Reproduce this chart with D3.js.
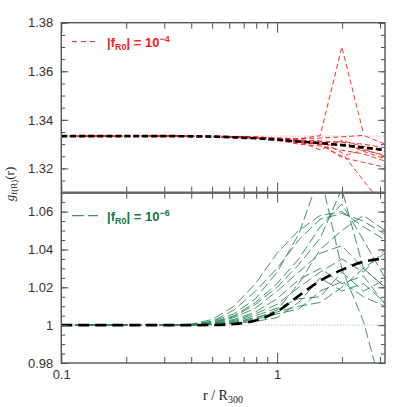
<!DOCTYPE html>
<html><head><meta charset="utf-8">
<script src="https://cdn.jsdelivr.net/npm/d3@7"></script>
<style>body{margin:0;background:#fff}</style>
</head><body>
<svg id="c" width="407" height="407"></svg>
<script>
// ---------- data ----------
const rGrid = [0.1,0.1259,0.1585,0.1995,0.2512,0.3162,0.3981,0.5012,0.631,0.7943,1.0,1.2589,1.5849,1.9953,2.5119,3.1623];

const meanTop = [1.3333,1.3333,1.3333,1.3333,1.3333,1.3333,1.3332,1.3331,1.3328,1.3324,1.3318,1.3311,1.3304,1.3296,1.3286,1.3276];
const meanBot = [1,1,1,1,1,1,1.0,1.0001,1.0006,1.0025,1.0072,1.0155,1.0235,1.0292,1.0335,1.0352];

const redCurves = [
  [1.3333,1.3333,1.3333,1.3333,1.3333,1.3333,1.3333,1.3332,1.3331,1.3330,1.3325,1.3322,1.3335,1.3700,1.3345,null],
  [1.3332,1.3332,1.3333,1.3333,1.3333,1.3333,1.3332,1.3331,1.3330,1.3328,1.3322,1.3315,1.3312,1.3265,1.3150,1.3040],
  [1.3331,1.3332,1.3332,1.3333,1.3333,1.3333,1.3332,1.3331,1.3329,1.3326,1.3320,1.3305,1.3300,1.3245,1.3225,1.3205],
  [1.3332,1.3332,1.3333,1.3333,1.3333,1.3333,1.3333,1.3332,1.3330,1.3327,1.3323,1.3312,1.3276,1.3315,1.3290,1.3270],
  [1.3333,1.3333,1.3333,1.3333,1.3333,1.3333,1.3333,1.3332,1.3331,1.3329,1.3325,1.3322,1.3325,1.3330,1.3336,1.3300],
  [1.3331,1.3331,1.3332,1.3332,1.3333,1.3333,1.3332,1.3331,1.3329,1.3325,1.3318,1.3308,1.3300,1.3295,1.3280,1.3250],
  [1.3332,1.3332,1.3332,1.3333,1.3333,1.3333,1.3332,1.3331,1.3330,1.3326,1.3320,1.3310,1.3305,1.3310,1.3270,1.3240],
  [1.3331,1.3332,1.3332,1.3332,1.3333,1.3333,1.3332,1.3331,1.3328,1.3324,1.3316,1.3300,1.3292,1.3275,1.3260,1.3230],
  [1.3333,1.3333,1.3333,1.3333,1.3333,1.3333,1.3333,1.3332,1.3331,1.3328,1.3322,1.3318,1.3313,1.3308,1.3300,1.3285],
  [1.3332,1.3332,1.3333,1.3333,1.3333,1.3333,1.3332,1.3331,1.3329,1.3325,1.3319,1.3312,1.3298,1.3250,1.3275,1.3255]
];

const greenCurves = [
  [1,1,1,1,1,1,1.0005,1.0030,1.0100,1.0220,1.0380,1.0500,1.0580,1.0600,1.0520,1.0450],
  [1,1,1,1,1,1,1.0004,1.0020,1.0080,1.0180,1.0300,1.0450,1.0560,1.0590,1.0550,1.0480],
  [1,1,1,1,1,1,1.0003,1.0020,1.0060,1.0140,1.0280,1.0480,1.0800,1.0300,1.0020,0.9600],
  [1,1,1,1,1,1,1.0003,1.0015,1.0050,1.0120,1.0220,1.0350,1.0520,1.0640,1.0450,1.0250],
  [1,1,1,1,1,1,1.0002,1.0010,1.0040,1.0090,1.0180,1.0280,1.0380,1.0420,1.0300,1.0200],
  [1,1,1,1,1,1,1.0002,1.0010,1.0030,1.0070,1.0140,1.0240,1.0300,1.0220,1.0260,1.0110],
  [1,1,1,1,1,1,1.0001,1.0008,1.0025,1.0060,1.0110,1.0200,1.0280,1.0350,1.0280,1.0400],
  [1,1,1,1,1,1,1.0001,1.0005,1.0020,1.0050,1.0090,1.0140,1.0150,1.0280,1.0180,1.0240],
  [1,1,1,1,1,1,1.0000,1.0004,1.0015,1.0040,1.0070,1.0100,1.0120,1.0200,1.0300,1.0380],
  [1,1,1,1,1,1,1.0000,1.0003,1.0010,1.0030,1.0060,1.0085,1.0180,1.0230,1.0150,1.0100],
  [1,1,1,1,1,1,1.0001,1.0004,1.0012,1.0035,1.0080,1.0220,1.0400,1.0500,1.0580,1.0500],
  [1,1,1,1,1,1,1.0002,1.0012,1.0045,1.0110,1.0200,1.0320,1.0460,1.0720,1.0300,1.0200],
  [1,1,1,1,1,1,1.0000,1.0003,1.0008,1.0020,1.0040,1.0120,1.0250,1.0180,1.0220,1.0120]
];

const xMajor = [0.1, 1];
const xMinor = [0.2,0.3,0.4,0.5,0.6,0.7,0.8,0.9,2,3];
const yTopMajor = [1.32,1.34,1.36,1.38];
const yTopMinor = d3.range(1.31,1.3801,0.005).map(v=>+v.toFixed(3));
const yBotMajor = [0.98,1.0,1.02,1.04,1.06];
const yBotMinor = d3.range(0.98,1.0701,0.005).map(v=>+v.toFixed(3));
const topLegend = "10";
// ---------- layout ----------
const svg = d3.select("#c");
const L = 61.3, R = 385, T = 22.7, M = 192.7, B = 363;
const x = d3.scaleLog().domain([0.1, 3.1623]).range([L, R]);
const yT = d3.scaleLinear().domain([1.31, 1.38]).range([M, T]);
const yB = d3.scaleLinear().domain([0.98, 1.07]).range([B, M]);
const axisCol = "#555";
const font = "'Liberation Sans', Arial, sans-serif";

const defs = svg.append("defs");
defs.append("clipPath").attr("id","clipT").append("rect").attr("x",L).attr("y",T).attr("width",R-L).attr("height",M-T);
defs.append("clipPath").attr("id","clipB").append("rect").attr("x",L).attr("y",M).attr("width",R-L).attr("height",B-M);

function panel(y, clip, curves, mean, col, dashInd, dashMean, ref, majY, minY, showXLabels) {
  const g = svg.append("g");
  const pg = g.append("g").attr("clip-path", `url(#${clip})`);
  // reference dotted line
  pg.append("line").attr("x1",L).attr("x2",R).attr("y1",y(ref)).attr("y2",y(ref))
    .attr("stroke","#888").attr("stroke-width",0.8).attr("stroke-dasharray","1,2");
  const line = d3.line().defined(d=>d[1]!=null).x(d=>x(d[0])).y(d=>y(d[1]));
  curves.forEach(c=>{
    pg.append("path").attr("d", line(rGrid.map((r,i)=>[r,c[i]])))
      .attr("fill","none").attr("stroke",col).attr("stroke-width",0.9)
      .attr("stroke-dasharray",dashInd);
  });
  const mline = d3.line().x(d=>x(d[0])).y(d=>y(d[1])).curve(d3.curveMonotoneX);
  pg.append("path").attr("d", mline(rGrid.map((r,i)=>[r,mean[i]])))
    .attr("fill","none").attr("stroke","#000").attr("stroke-width",2.6)
    .attr("stroke-dasharray",dashMean);

  // axes (inward ticks)
  const y0 = y.range()[0], y1 = y.range()[1];
  const mk = (ax, tr) => {
    const a = g.append("g").attr("transform", tr).call(ax);
    a.select(".domain").remove();
    a.selectAll("line").attr("stroke",axisCol).attr("stroke-width",1);
    a.selectAll("text").attr("fill","#333").style("font-family",font).style("font-size","13px");
    return a;
  };
  mk(d3.axisLeft(y).tickValues(majY).tickSize(-7).tickPadding(8).tickFormat(d=>d===1?"1":d3.format(".2f")(d)), `translate(${L},0)`);
  mk(d3.axisLeft(y).tickValues(minY).tickSize(-4).tickFormat(""), `translate(${L},0)`);
  mk(d3.axisRight(y).tickValues(majY).tickSize(-7).tickFormat(""), `translate(${R},0)`);
  mk(d3.axisRight(y).tickValues(minY).tickSize(-4).tickFormat(""), `translate(${R},0)`);
  mk(d3.axisBottom(x).tickValues(xMajor).tickSize(-10).tickPadding(7).tickFormat(showXLabels? (d=>d===1?"1":"0.1") : ""), `translate(0,${y0})`);
  mk(d3.axisBottom(x).tickValues(xMinor).tickSize(-6).tickFormat(""), `translate(0,${y0})`);
  mk(d3.axisTop(x).tickValues(xMajor).tickSize(-10).tickFormat(""), `translate(0,${y1})`);
  mk(d3.axisTop(x).tickValues(xMinor).tickSize(-6).tickFormat(""), `translate(0,${y1})`);
  g.append("rect").attr("x",L).attr("y",y1).attr("width",R-L).attr("height",y0-y1)
    .attr("fill","none").attr("stroke",axisCol).attr("stroke-width",1.4);
  return g;
}

panel(yT, "clipT", redCurves, meanTop, "#ff1a1a", "5,3", "6,3", 4/3, yTopMajor, yTopMinor, false);
panel(yB, "clipB", greenCurves, meanBot, "#2a8a5a", "10,4", "11,6", 1.0, yBotMajor, yBotMinor, true);
// thicker divider
svg.append("line").attr("x1",L).attr("x2",R).attr("y1",M).attr("y2",M).attr("stroke","#666").attr("stroke-width",2.2);

// legends
function legend(yy, col, dash, exp) {
  svg.append("line").attr("x1",72).attr("x2",98).attr("y1",yy).attr("y2",yy)
    .attr("stroke",col).attr("stroke-width",1).attr("stroke-dasharray",dash);
  const t = svg.append("text").attr("x",107).attr("y",yy+5).attr("fill",col)
    .style("font-family",font).style("font-size","13px").style("font-weight","bold");
  t.append("tspan").text("|f");
  t.append("tspan").attr("dy",3.5).style("font-size","9px").text("R0");
  t.append("tspan").attr("dy",-3.5).text("| = 10");
  t.append("tspan").attr("dy",-5).style("font-size","9px").text(exp);
}
legend(41.7, "#ff1a1a", "5,4", "−4");
legend(215.7, "#117744", "12,4", "−6");

// axis titles
const yl = svg.append("text").attr("transform","translate(14,184) rotate(-90)")
  .attr("text-anchor","middle").attr("fill","#222")
  .style("font-family","'Liberation Serif','DejaVu Serif',serif").style("font-size","13px");
yl.append("tspan").style("font-style","italic").text("g");
yl.append("tspan").attr("dy",3).style("font-size","9px").text("f(R)");
yl.append("tspan").attr("dy",-3).text("(r)");

const xl = svg.append("text").attr("x",223).attr("y",400).attr("text-anchor","middle").attr("fill","#222")
  .style("font-family","'Liberation Serif','DejaVu Serif',serif").style("font-size","14px");
xl.append("tspan").text("r / R");
xl.append("tspan").attr("dy",3).style("font-size","10px").text("300");
</script>
</body></html>
